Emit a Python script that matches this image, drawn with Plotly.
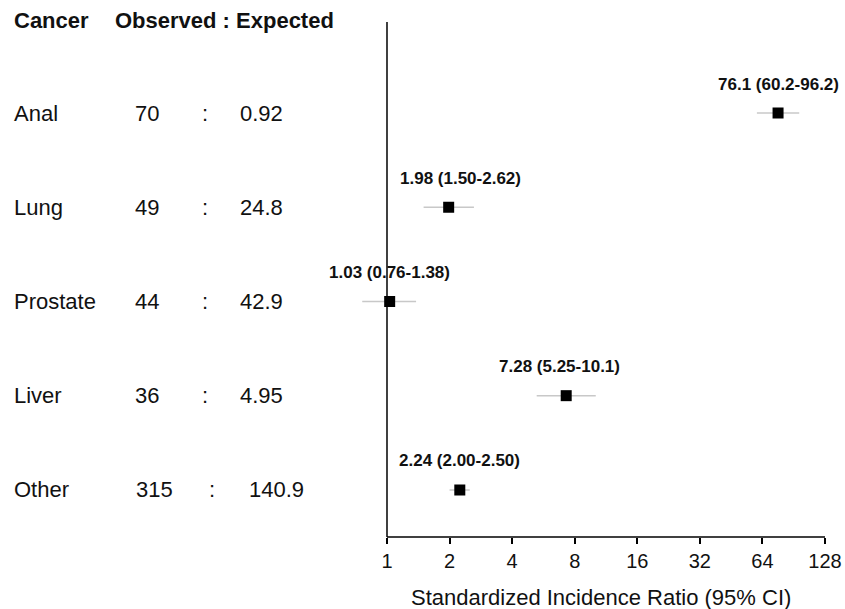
import math
import plotly.graph_objects as go

# ---------------- data ----------------
cancers = ["Anal", "Lung", "Prostate", "Liver", "Other"]
observed = ["70", "49", "44", "36", "315"]
expected = ["0.92", "24.8", "42.9", "4.95", "140.9"]
sir = [76.1, 1.98, 1.03, 7.28, 2.24]
ci_low = [60.2, 1.50, 0.76, 5.25, 2.00]
ci_high = [96.2, 2.62, 1.38, 10.1, 2.50]
sir_text = ["76.1", "1.98", "1.03", "7.28", "2.24"]
low_text = ["60.2", "1.50", "0.76", "5.25", "2.00"]
high_text = ["96.2", "2.62", "1.38", "10.1", "2.50"]
tick_vals = [1, 2, 4, 8, 16, 32, 64, 128]
tick_labels = ["1", "2", "4", "8", "16", "32", "64", "128"]
ref_value = 1
x_title = "Standardized Incidence Ratio (95% CI)"
headers = ["Cancer", "Observed : Expected"]

# ---------------- layout helpers ----------------
W, H = 845, 609
X1_PX, X128_PX, TOP_PX, BOT_PX = 387, 825, 22, 537   # screen pixels
ML, MR = 0, W - X128_PX
MT, MB = TOP_PX, H - BOT_PX
PW = W - ML - MR
PH = H - MT - MB


def px(x):
    return (x - ML) / PW


def py(y):
    return 1 - (y - MT) / PH


n = len(cancers)
ypos = [n - 1 - i for i in range(n)]

FONT = "Liberation Sans, Arial, sans-serif"
TXT = "#111111"

fig = go.Figure()

# whiskers
wx, wy = [], []
for i in range(n):
    wx += [ci_low[i], ci_high[i], None]
    wy += [ypos[i], ypos[i], None]
fig.add_trace(go.Scatter(x=wx, y=wy, mode="lines",
                         line=dict(color="#c8c8c8", width=1.5),
                         hoverinfo="skip", showlegend=False))

# points
fig.add_trace(go.Scatter(x=sir, y=ypos, mode="markers",
                         marker=dict(symbol="square", size=11, color="black"),
                         showlegend=False))

annotations = []
label_dx = [0, 12, 0, -7, 0]
for i in range(n):
    annotations.append(dict(
        x=math.log10(sir[i]), y=ypos[i], xref="x", yref="y",
        text=f"<b>{sir_text[i]} ({low_text[i]}-{high_text[i]})</b>",
        showarrow=False, yshift=29, xshift=label_dx[i],
        font=dict(family=FONT, size=17, color=TXT)))

# left table
col_obs = [133, 133, 133, 133, 134]
col_colon = [205, 205, 205, 205, 212]
col_exp = [238, 238, 238, 238, 247]
for i in range(n):
    for xp, txt, anchor in [(12, cancers[i], "left"),
                            (col_obs[i], observed[i], "left"),
                            (col_colon[i], ":", "center"),
                            (col_exp[i], expected[i], "left")]:
        annotations.append(dict(
            x=px(xp), y=ypos[i], xref="paper", yref="y", text=txt,
            xanchor=anchor, yanchor="middle", showarrow=False,
            font=dict(family=FONT, size=22, color=TXT)))

# headers
for xp, txt in [(12, headers[0]), (113, headers[1])]:
    annotations.append(dict(
        x=px(xp), y=py(20), xref="paper", yref="paper",
        text=f"<b>{txt}</b>", xanchor="left", yanchor="middle",
        showarrow=False, font=dict(family=FONT, size=22, color=TXT)))

# x-axis title
annotations.append(dict(
    x=px(601), y=py(597), xref="paper", yref="paper", text=x_title,
    xanchor="center", yanchor="middle", showarrow=False,
    font=dict(family=FONT, size=22, color=TXT)))

shapes = [
    dict(type="line", xref="x", yref="paper", x0=ref_value, x1=ref_value,
         y0=0, y1=1, line=dict(color="black", width=1.5), layer="below"),
    dict(type="line", xref="x", yref="paper", x0=tick_vals[0], x1=tick_vals[-1],
         y0=0, y1=0, line=dict(color="black", width=1.5), layer="below"),
]

octave = (X128_PX - X1_PX) / 7.0
x_left_px = X1_PX - octave  # one octave below 1
fig.update_layout(
    width=W, height=H,
    margin=dict(l=ML, r=MR, t=MT, b=MB),
    paper_bgcolor="white", plot_bgcolor="white",
    showlegend=False,
    annotations=annotations,
    shapes=shapes,
    xaxis=dict(type="log", range=[math.log10(0.5), math.log10(128)],
               domain=[px(x_left_px), 1],
               tickvals=tick_vals, ticktext=tick_labels,
               ticks="outside", ticklen=6, tickwidth=1.5, tickcolor="black",
               showline=False, showgrid=False, zeroline=False,
               tickfont=dict(family=FONT, size=20, color=TXT)),
    yaxis=dict(range=[-0.5, 4.966], visible=False, showgrid=False,
               zeroline=False),
)

fig.write_html("out.html",
               config={"displayModeBar": False},
               post_script="document.body.style.margin='0px';"
                           "document.body.style.overflow='hidden';")
